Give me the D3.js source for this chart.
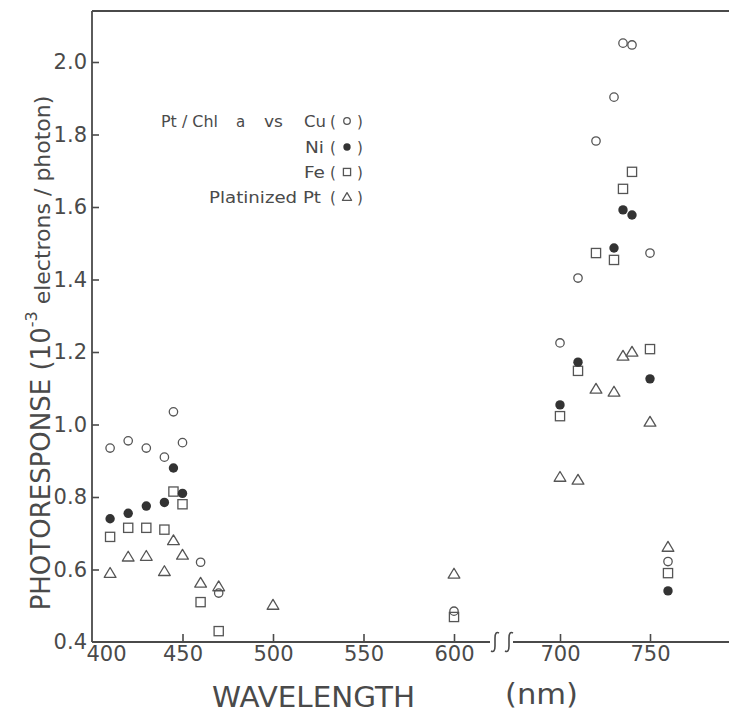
<!DOCTYPE html>
<html>
<head>
<meta charset="utf-8">
<script src="https://cdn.jsdelivr.net/npm/d3@7"></script>
<style>
  html, body { margin: 0; padding: 0; background: #fff; }
  svg { display: block; }
  text { font-family: "DejaVu Sans", sans-serif; fill: #4a4a4a; }
  .tick line { stroke: #4a4a4a; stroke-width: 1.6; }
</style>
</head>
<body>
<div id="chart"></div>
<script>
// wavelengths (nm) and photoresponse (10^-3 electrons / photon)
const cuWl  = [410, 420, 430, 440, 445, 450, 460, 470, 600, 700, 710, 720, 730, 735, 740, 750, 760];
const cuVal = [0.935, 0.955, 0.935, 0.91, 1.035, 0.95, 0.62, 0.535, 0.485, 1.225, 1.404, 1.782, 1.903, 2.052, 2.047, 1.473, 0.622];

const niWl  = [410, 420, 430, 440, 445, 450, 700, 710, 730, 735, 740, 750, 760];
const niVal = [0.74, 0.755, 0.775, 0.785, 0.88, 0.81, 1.054, 1.172, 1.487, 1.592, 1.578, 1.126, 0.541];

const feWl  = [410, 420, 430, 440, 445, 450, 460, 470, 600, 700, 710, 720, 730, 735, 740, 750, 760];
const feVal = [0.69, 0.715, 0.715, 0.71, 0.815, 0.78, 0.51, 0.43, 0.469, 1.023, 1.148, 1.473, 1.454, 1.65, 1.697, 1.208, 0.59];

const ptWl  = [410, 420, 430, 440, 445, 450, 460, 470, 500, 600, 700, 710, 720, 730, 735, 740, 750, 760];
const ptVal = [0.59, 0.635, 0.637, 0.595, 0.68, 0.64, 0.563, 0.553, 0.502, 0.588, 0.855, 0.847, 1.098, 1.09, 1.189, 1.2, 1.007, 0.662];

const xTicks = [400, 450, 500, 550, 600, 700, 750];
const yTicks = [0.4, 0.6, 0.8, 1.0, 1.2, 1.4, 1.6, 1.8, 2.0];

// legend words: text, left x, fitted width
const legendRows = [
  { kind: "cu", words: [["Pt / Chl", 161, 57], ["a", 236, 0], ["vs", 264, 19], ["Cu", 304, 22]] },
  { kind: "ni", words: [["Ni", 305, 19]] },
  { kind: "fe", words: [["Fe", 304, 21]] },
  { kind: "pt", words: [["Platinized Pt", 209, 112]] }
];

const width = 729, height = 714;
const ink = "#4a4a4a";

const svg = d3.select("#chart").append("svg").attr("width", width).attr("height", height);

// broken x axis: 600 -> 700 squeezed into one gap
const x = d3.scaleLinear().domain([400, 600, 700, 800]).range([92, 454, 560, 740]);
const y = d3.scaleLinear().domain([0.4, 2.0]).range([642, 62]);
const plotTop = 11, plotRight = 729;
const x0 = x(400), y0 = y(0.4);
const breakL = 490, breakR = 513;

// frame
const frame = svg.append("g").attr("stroke", ink).attr("stroke-width", 1.8).attr("fill", "none");
frame.append("line").attr("x1", x0).attr("x2", x0).attr("y1", plotTop).attr("y2", y0);
frame.append("line").attr("x1", x0).attr("x2", plotRight).attr("y1", plotTop).attr("y2", plotTop);
frame.append("line").attr("x1", x0).attr("x2", breakL).attr("y1", y0).attr("y2", y0);
frame.append("line").attr("x1", breakR).attr("x2", plotRight).attr("y1", y0).attr("y2", y0);
[495, 509].forEach(cx => {
  frame.append("path")
    .attr("d", `M${cx + 4},${y0 - 9} Q${cx},${y0 - 11} ${cx},${y0 - 4} L${cx},${y0 + 4} Q${cx},${y0 + 11} ${cx - 4},${y0 + 9}`)
    .attr("stroke-width", 1.6);
});

// axes
const xAxis = svg.append("g").attr("transform", `translate(0,${y0})`)
  .call(d3.axisBottom(x).tickValues(xTicks).tickSize(-8).tickPadding(4).tickFormat(d3.format("d")));
xAxis.select(".domain").remove();
xAxis.selectAll("text").attr("font-size", 21).attr("font-family", null).attr("fill", ink);
xAxis.selectAll(".tick").filter(d => d === 400).select("text").attr("x", 14);
xAxis.selectAll(".tick").filter(d => d === 400).select("line").remove();

const yAxis = svg.append("g").attr("transform", `translate(${x0},0)`)
  .call(d3.axisLeft(y).tickValues(yTicks).tickSize(-7).tickPadding(5).tickFormat(d3.format(".1f")));
yAxis.select(".domain").remove();
yAxis.selectAll("text").attr("font-size", 21).attr("font-family", null).attr("fill", ink);
yAxis.selectAll(".tick").filter(d => d === 0.4).select("line").remove();

// titles
const yt = svg.append("text").attr("transform", "translate(50,353) rotate(-90)")
  .attr("text-anchor", "middle").attr("font-size", 26);
yt.append("tspan").text("PHOTORESPONSE (10");
yt.append("tspan").attr("font-size", 16).attr("dy", -13).text("-3");
yt.append("tspan").attr("font-size", 22).attr("dy", 13).text("\u00a0electrons / photon)");

svg.append("text").attr("x", 212).attr("y", 707).attr("font-size", 29)
  .attr("textLength", 203).attr("lengthAdjust", "spacingAndGlyphs").text("WAVELENGTH");
svg.append("text").attr("x", 505).attr("y", 704).attr("font-size", 29)
  .attr("textLength", 73).attr("lengthAdjust", "spacingAndGlyphs").text("(nm)");

// markers
function drawMarker(g, kind, cx, cy, s) {
  if (kind === "cu") {
    g.append("circle").attr("cx", cx).attr("cy", cy).attr("r", 4.2 * s)
      .attr("fill", "none").attr("stroke", "#555").attr("stroke-width", 1.3);
  } else if (kind === "ni") {
    g.append("circle").attr("cx", cx).attr("cy", cy).attr("r", 4.7 * s).attr("fill", "#333");
  } else if (kind === "fe") {
    const h = 4.6 * s;
    g.append("rect").attr("x", cx - h).attr("y", cy - h).attr("width", 2 * h).attr("height", 2 * h)
      .attr("fill", "none").attr("stroke", "#555").attr("stroke-width", 1.3);
  } else {
    const a = 5.6 * s;
    g.append("path")
      .attr("d", `M${cx},${cy - a} L${cx + a * 1.05},${cy + a * 0.75} L${cx - a * 1.05},${cy + a * 0.75}Z`)
      .attr("fill", "none").attr("stroke", "#555").attr("stroke-width", 1.3).attr("stroke-linejoin", "round");
  }
}

const series = [
  { kind: "pt", wl: ptWl, val: ptVal },
  { kind: "fe", wl: feWl, val: feVal },
  { kind: "cu", wl: cuWl, val: cuVal },
  { kind: "ni", wl: niWl, val: niVal }
];
const marks = svg.append("g");
series.forEach(s => {
  s.wl.forEach((w, i) => drawMarker(marks, s.kind, x(w), y(s.val[i]), 1));
});

// legend
const legendY = [121, 147, 172, 197];
const leg = svg.append("g");
legendRows.forEach((r, i) => {
  const cy = legendY[i];
  r.words.forEach(([t, wx, wl]) => {
    const tx = leg.append("text").attr("x", wx).attr("y", cy + 5.5).attr("font-size", 15).text(t);
    if (wl) tx.attr("textLength", wl).attr("lengthAdjust", "spacingAndGlyphs");
  });
  leg.append("text").attr("x", 333).attr("y", cy + 5.5).attr("text-anchor", "middle").attr("font-size", 15).text("(");
  leg.append("text").attr("x", 360).attr("y", cy + 5.5).attr("text-anchor", "middle").attr("font-size", 15).text(")");
  drawMarker(leg, r.kind, 347, cy, 0.78);
});
</script>
</body>
</html>
